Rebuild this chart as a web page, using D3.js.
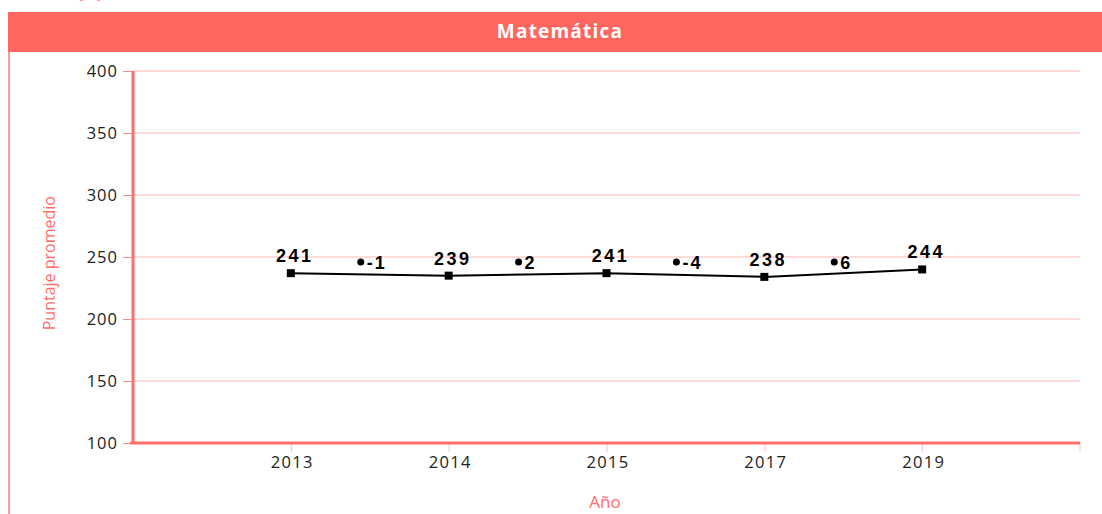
<!DOCTYPE html>
<html>
<head>
<meta charset="utf-8">
<script src="https://cdn.jsdelivr.net/npm/d3@7"></script>
<style>
  body { margin: 0; background: #fff; }
  svg { display: block; }
</style>
</head>
<body>
<div id="plot"></div>
<script>
// data
const years = ["2013", "2014", "2015", "2017", "2019"];
const scores = [241, 239, 241, 238, 244];
const diffs = [-1, 2, -4, 6];
const yTicks = [100, 150, 200, 250, 300, 350, 400];

const W = 1102, H = 514;
const pink = "#ff6660";
const margin = { top: 71, right: 22, bottom: 71, left: 133 },
      width = W - margin.left - margin.right,
      height = H - margin.top - margin.bottom;

const svg = d3.select("div#plot").append("svg")
    .attr("width", W)
    .attr("height", H);

// cut off heading above the panel
svg.append("text")
    .attr("x", 40)
    .attr("y", -3)
    .attr("fill", "#ff8a70")
    .style("font", "15px 'Open Sans'")
    .text("Puntaje y variación");

// panel header
svg.append("rect")
    .attr("x", 8).attr("y", 12)
    .attr("width", W - 8).attr("height", 40)
    .attr("fill", pink);

svg.append("text")
    .attr("x", 560).attr("y", 38)
    .attr("text-anchor", "middle")
    .attr("fill", "#fff")
    .style("font", "bold 19px 'Open Sans'")
    .style("letter-spacing", "1.2px")
    .text("Matemática");

svg.append("line")
    .attr("x1", 9).attr("x2", 9)
    .attr("y1", 52).attr("y2", H)
    .attr("stroke", "#ff7a75")
    .attr("stroke-width", 1.5);

const g = svg.append("g")
    .attr("transform", `translate(${margin.left},${margin.top})`);

const x = d3.scalePoint()
    .domain(years)
    .range([0, width])
    .padding(1);

const y = d3.scaleLinear()
    .domain([100, 400])
    .range([height, 0]);

// gridlines
g.selectAll(".grid")
  .data(yTicks.slice(1))
  .enter().append("line")
    .attr("class", "grid")
    .attr("x1", 0).attr("x2", width)
    .attr("y1", d => y(d)).attr("y2", d => y(d))
    .attr("stroke", d => d === 400 ? "#ffd8d6" : "#ffb8b4")
    .attr("stroke-width", d => d === 400 ? 2 : 1);

// y axis
const yAxis = g.append("g")
    .call(d3.axisLeft(y).tickValues(yTicks).tickSize(10).tickPadding(5));
yAxis.select(".domain").remove();
yAxis.selectAll(".tick line").attr("stroke", "#ff8c88");
yAxis.selectAll(".tick text")
    .attr("fill", "#222")
    .style("font", "16.5px 'Open Sans'")
    .style("letter-spacing", "1px");

// x axis
const xAxis = g.append("g")
    .attr("transform", `translate(0,${height})`)
    .call(d3.axisBottom(x).tickSize(9).tickPadding(4));
xAxis.select(".domain").remove();
xAxis.selectAll(".tick line").attr("stroke", "#ffc2bf");
xAxis.selectAll(".tick text")
    .attr("fill", "#222")
    .attr("dx", 1)
    .style("font", "16.5px 'Open Sans'")
    .style("letter-spacing", "1.3px");

g.append("line")
    .attr("x1", width).attr("x2", width)
    .attr("y1", height).attr("y2", height + 9)
    .attr("stroke", "#ffc2bf");

// axis lines
g.append("line")
    .attr("x1", 0).attr("x2", 0)
    .attr("y1", 0).attr("y2", height)
    .attr("stroke", "#ff6f6a").attr("stroke-width", 3);
g.append("line")
    .attr("x1", -3).attr("x2", width)
    .attr("y1", height).attr("y2", height)
    .attr("stroke", "#ff6f6a").attr("stroke-width", 3);

// axis titles
svg.append("text")
    .attr("transform", `translate(55,${margin.top + y(245)}) rotate(-90)`)
    .attr("text-anchor", "middle")
    .attr("fill", "#ff6f6a")
    .style("font", "16px 'Open Sans'")
    .text("Puntaje promedio");

svg.append("text")
    .attr("x", 605).attr("y", 508)
    .attr("text-anchor", "middle")
    .attr("fill", "#ff6f6a")
    .style("font", "17px 'Open Sans'")
    .text("Año");

// series (the pasted line sits a few px below the value)
const series = g.append("g").attr("transform", "translate(0,5)");

const line = d3.line()
    .x((d, i) => x(years[i]))
    .y(d => y(d));

series.append("path")
    .datum(scores)
    .attr("fill", "none")
    .attr("stroke", "#000")
    .attr("stroke-width", 2)
    .attr("d", line);

series.selectAll(".pt")
  .data(scores)
  .enter().append("rect")
    .attr("class", "pt")
    .attr("x", (d, i) => x(years[i]) - 4)
    .attr("y", d => y(d) - 4)
    .attr("width", 8).attr("height", 8)
    .attr("fill", "#000");

g.selectAll(".lbl")
  .data(scores)
  .enter().append("text")
    .attr("class", "lbl")
    .attr("x", (d, i) => x(years[i]) + 4)
    .attr("y", d => y(d) - 6)
    .attr("text-anchor", "middle")
    .attr("fill", "#000")
    .style("font", "bold 18px 'Liberation Sans'")
    .style("letter-spacing", "2.5px")
    .text(d => d);

// variation between consecutive years
const mid = i => (x(years[i]) + x(years[i + 1])) / 2 - 9;
const dy = y(250) + 5;

g.selectAll(".dot")
  .data(diffs)
  .enter().append("circle")
    .attr("class", "dot")
    .attr("cx", (d, i) => mid(i))
    .attr("cy", dy)
    .attr("r", 3.5)
    .attr("fill", "#000");

g.selectAll(".dlbl")
  .data(diffs)
  .enter().append("text")
    .attr("class", "dlbl")
    .attr("x", (d, i) => mid(i) + 6)
    .attr("y", dy + 7)
    .attr("fill", "#000")
    .style("font", "bold 18px 'Liberation Sans'")
    .style("letter-spacing", "2px")
    .text(d => d);
</script>
</body>
</html>
